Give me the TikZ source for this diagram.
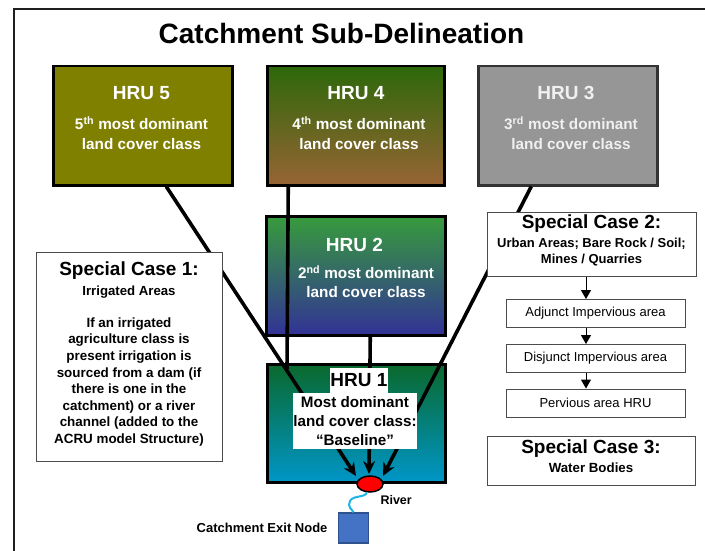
\documentclass[tikz,border=0pt]{standalone}
\usepackage{fontspec}
\setmainfont{Liberation Sans}
\usetikzlibrary{arrows.meta,calc,shapes.geometric}
\newcommand\pxfont[2]{\fontsize{#1}{#2}\selectfont}
\definecolor{olivebox}{RGB}{128,128,0}
\definecolor{hrufourtop}{RGB}{45,104,10}
\definecolor{hrufourbot}{RGB}{152,100,52}
\definecolor{greyboxfill}{RGB}{150,150,150}
\definecolor{hrutwotop}{RGB}{55,155,60}
\definecolor{hrutwobot}{RGB}{50,50,150}
\definecolor{hruonetop}{RGB}{10,105,45}
\definecolor{hruonemid}{RGB}{0,128,140}
\definecolor{hruonebot}{RGB}{0,150,200}
\definecolor{riverblue}{RGB}{30,180,230}
\definecolor{exitblue}{RGB}{68,114,196}
\definecolor{exitedge}{RGB}{47,82,143}

\begin{document}
\begin{tikzpicture}[x=1pt,y=-1pt,
  hru/.style={draw=black, line width=2.5pt, anchor=north west, inner sep=0pt},
  hrutitle/.style={text=white, font=\pxfont{19}{22}\bfseries},
  hrutext/.style={text=white, font=\pxfont{15.3}{20}\bfseries, align=center},
  flowline/.style={line width=3.6pt, draw=black},
  flowtip/.style={flowline, -{Stealth[length=13pt,width=12pt]}},
  casebox/.style={draw=black!70, line width=0.9pt, fill=white, anchor=north west, inner sep=0pt},
  casetitle/.style={font=\pxfont{19}{22}\bfseries},
  casetext/.style={font=\pxfont{13.4}{16.6}\bfseries, align=center},
  stepbox/.style={draw=black!70, line width=0.9pt, fill=white, minimum width=179pt,
    minimum height=28pt, inner sep=0pt, font=\pxfont{13}{15}},
  steparrow/.style={line width=1pt, -{Triangle[length=9pt,width=10pt]}},
]
% page and outer frame
\useasboundingbox (0,0) rectangle (705,551);
\clip (0,0) rectangle (705,551);
\fill[white] (0,0) rectangle (705,551);
\draw[line width=2pt, black!88] (14,9) rectangle (712,560);

\node[font=\pxfont{28}{31}\bfseries] (title) at (341.5,33) {Catchment Sub-Delineation};

% HRU boxes
\node[hru, fill=olivebox, minimum width=179pt, minimum height=119pt] (hru5) at (52,65) {};
\node[hru, top color=hrufourtop, bottom color=hrufourbot, minimum width=177pt, minimum height=119pt] (hru4) at (266,65) {};
\node[hru, draw=black!80, fill=greyboxfill, minimum width=179pt, minimum height=119pt] (hru3) at (477,65) {};
\node[hru, top color=hrutwotop, bottom color=hrutwobot, minimum width=179pt, minimum height=119pt] (hru2) at (265,215) {};
\node[hru, top color=hruonetop, middle color=hruonemid, bottom color=hruonebot, minimum width=178pt, minimum height=118pt] (hru1) at (266,363) {};

% flow lines towards the outlet
\coordinate (tipL) at (356,476);
\coordinate (tipM) at (369,474);
\coordinate (tipR) at (383,476);
\coordinate (join4) at (287,369);
\draw[flowtip] ([xshift=23.5pt]hru5.south) -- (tipL);
\draw[flowline] ([xshift=-67.5pt]hru4.south) -- (join4);
\draw[flowtip] ([xshift=14.5pt]hru2.south) -- (tipM);
\draw[flowtip] ([xshift=-36.5pt]hru3.south) -- (tipR);

% HRU labels
\node[hrutitle] (h5t) at (141.5,93) {HRU 5};
\node[hrutext] (h5d) at (141.5,133) {5\textsuperscript{th} most dominant\\land cover class};
\node[hrutitle] (h4t) at (356,93) {HRU 4};
\node[hrutext] (h4d) at (359,133) {4\textsuperscript{th} most dominant\\land cover class};
\node[hrutitle, text=white!94!black] (h3t) at (566,93) {HRU 3};
\node[hrutext, text=white!94!black] (h3d) at (571,133) {3\textsuperscript{rd} most dominant\\land cover class};
\node[hrutitle] (h2t) at (354.5,245) {HRU 2};
\node[hrutext, font=\pxfont{15.3}{19}\bfseries] (h2d) at (366,281.5) {2\textsuperscript{nd} most dominant\\land cover class};
\node[fill=white, inner sep=0pt, minimum width=58pt, minimum height=25pt,
  font=\pxfont{19}{22}\bfseries] (h1t) at (359,380.5) {HRU 1};
\node[fill=white, inner sep=0pt, minimum width=124pt, minimum height=56pt, align=center,
  font=\pxfont{15.2}{19}\bfseries] (h1d) at (355,421) {Most dominant\\land cover class:\\“Baseline”};

% special case 1
\node[casebox, minimum width=186pt, minimum height=209pt] (case1) at (36,252) {};
\node[casetitle] (c1t) at (129,271) {Special Case 1:};
\node[font=\pxfont{13.2}{15}\bfseries] (c1s) at (129,292) {Irrigated Areas};
\node[casetext] (c1b) at (129,382) {If an irrigated\\agriculture class is\\present irrigation is\\sourced from a dam (if\\there is one in the\\catchment) or a river\\channel (added to the\\ACRU model Structure)};

% special case 2 and its steps
\node[casebox, minimum width=209pt, minimum height=64pt] (case2) at (487,212) {};
\node[casetitle] (c2t) at (591.5,224) {Special Case 2:};
\node[font=\pxfont{13}{16}\bfseries, align=center] (c2s) at (591.5,252) {Urban Areas; Bare Rock / Soil;\\Mines / Quarries};
\node[stepbox] (adj) at (595.5,313.5) {Adjunct Impervious area};
\node[stepbox] (disj) at (595.5,358.5) {Disjunct Impervious area};
\node[stepbox] (perv) at (595.5,403) {Pervious area HRU};
\coordinate (stepx) at (586,0);
\draw[steparrow] (case2.south -| stepx) -- (adj.north -| stepx);
\draw[steparrow] (adj.south -| stepx) -- (disj.north -| stepx);
\draw[steparrow] (disj.south -| stepx) -- (perv.north -| stepx);

% special case 3
\node[casebox, minimum width=208pt, minimum height=49pt] (case3) at (487,436) {};
\node[casetitle] (c3t) at (591,449) {Special Case 3:};
\node[font=\pxfont{13.3}{15}\bfseries] (c3s) at (591,468) {Water Bodies};

% outlet, river and exit node
\node[ellipse, draw=black, line width=1.5pt, fill=red, minimum width=26pt, minimum height=16pt, inner sep=0pt] (outlet) at (370,484) {};
\node[draw=exitedge, line width=1.2pt, fill=exitblue, minimum size=30pt, inner sep=0pt] (exitnode) at (353.5,528) {};
\draw[riverblue, line width=2pt] (outlet.250) .. controls (365,498) and (353,495) .. (350,501)
  .. controls (347,507) and (352,509) .. (exitnode.north);
\node[font=\pxfont{12.5}{14}\bfseries, anchor=west] (riverlbl) at (377,500) {River};
\node[font=\pxfont{13}{15}\bfseries, anchor=east] (exitlbl) at (331,528) {Catchment Exit Node};
\end{tikzpicture}
\end{document}
